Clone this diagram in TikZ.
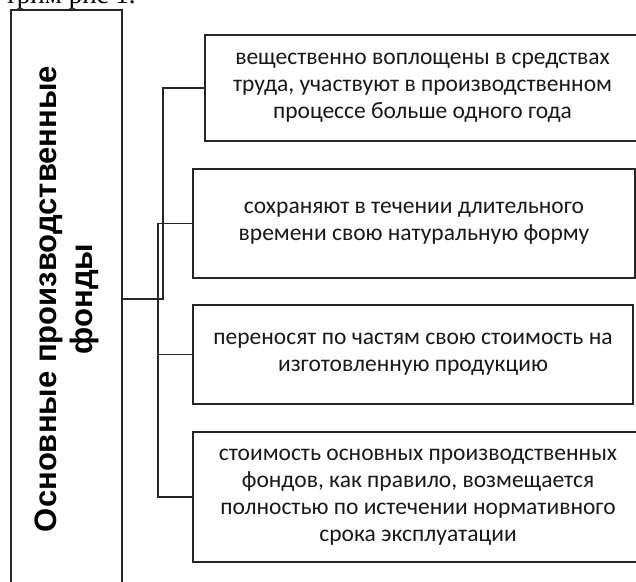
\documentclass[tikz,border=0pt]{standalone}
\usepackage{fontspec}
\setmainfont{Carlito}
\newfontfamily\headfont{Liberation Sans}
\newfontfamily\pagefont{Liberation Serif}
\usetikzlibrary{positioning}

\begin{document}
\begin{tikzpicture}[x=1pt,y=-1pt,line width=1.7pt,draw=black!85]
    \tikzstyle{feature}=[draw,rectangle,inner sep=0pt,align=center,text=black!90,font=\fontsize{23.5}{27}\selectfont]
    \tikzstyle{main box}=[draw,rectangle,inner sep=0pt,minimum width=111pt,minimum height=578pt]
    \tikzstyle{main text}=[rotate=90,align=center,inner sep=0pt,font=\headfont\bfseries\fontsize{31}{36}\selectfont]
    \clip (0,0) rectangle (636,581);

    % cut-off line of the page above
    \node[anchor=base west,inner sep=0pt,font=\pagefont\fontsize{27}{30}\selectfont] (caption) at (4,3) {трим рис 1.};

    % Draw the left box
    \node[main box] (main) at (66.5,299) {};
    \node[main text] (main-label) at (main.center) {Основные производственные\\фонды};

    % Draw the feature boxes
    \node[feature,minimum width=435pt,minimum height=106pt] (F-1) at (422.5,88)
        {вещественно воплощены в средствах\\труда, участвуют в производственном\\процессе больше одного года};
    \node[feature,minimum width=442pt,minimum height=109pt] (F-2) at (414,223.5)
        {сохраняют в течении длительного\\времени свою натуральную форму};
    \node[feature,minimum width=440pt,minimum height=99pt] (F-3) at (413,354.5)
        {переносят по частям свою стоимость на\\изготовленную продукцию};
    \node[feature,minimum width=450pt,minimum height=130pt] (F-4) at (418,497)
        {стоимость основных производственных\\фондов, как правило, возмещается\\полностью по истечении нормативного\\срока эксплуатации};

    \coordinate (spine-1) at (163,0);
    \coordinate (spine-2) at (158,0);
    \draw (main.east) -- (main.east -| spine-1) |- (F-1.west);
    \draw (F-2.west) -- (F-2.west -| spine-2) |- (F-4.west);
    \draw (F-3.west) -- (F-3.west -| spine-2);
\end{tikzpicture}
\end{document}
